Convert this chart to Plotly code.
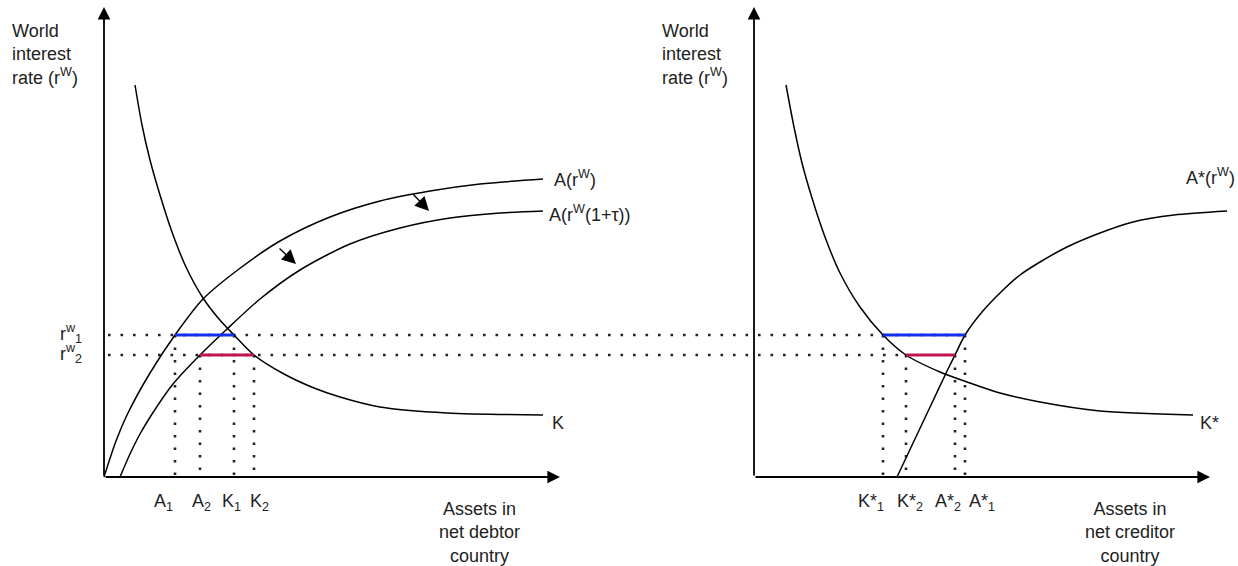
import plotly.graph_objects as go

# ---------------- data (panel coordinates: origin at each panel's axes corner) ----------------
# Left panel: net debtor country
A_x = [0, 12, 23, 46, 71, 99, 135, 176, 226, 276, 326, 376, 439]
A_y = [0, 36, 62, 104, 142, 178, 208, 236, 260, 276, 286, 293, 298]
A_tax_x = [16, 26, 36, 52, 69, 96, 122, 156, 196, 246, 296, 346, 396, 439]
A_tax_y = [0, 23, 43, 69, 93, 122, 147, 178, 207, 233, 249, 259, 264, 266]
K_x = [31, 38, 46, 56, 68, 82, 99, 115, 130, 150, 180, 210, 236, 276, 343, 439]
K_y = [392, 352, 317, 282, 245, 210, 179, 158, 142, 122, 103, 89, 80, 70, 64, 62]

# Right panel: net creditor country
Ks_x = [32, 40, 48, 58, 71, 86, 106, 129, 152, 186, 216, 246, 286, 346, 439]
Ks_y = [392, 350, 314, 279, 240, 204, 170, 142, 122, 105, 94, 84, 75, 66, 62]
As_x = [143, 160, 177, 194, 201, 211, 228, 246, 266, 286, 313, 346, 379, 420, 473]
As_y = [0, 36, 72, 108, 122, 142, 165, 184, 202, 215, 230, 244, 255, 262, 266]

# Equilibrium levels
r_levels = [142, 122]          # r^w_1, r^w_2
left_A = [71, 96]              # A1, A2
left_K = [130, 150]            # K1, K2
right_K = [129, 152]           # K*1, K*2
right_A = [211, 201]           # A*1, A*2

left_tick_labels = ["A<sub>1</sub>", "A<sub>2</sub>", "K<sub>1</sub>", "K<sub>2</sub>"]
right_tick_labels = ["K*<sub>1</sub>", "K*<sub>2</sub>", "A*<sub>2</sub>", "A*<sub>1</sub>"]
r_tick_labels = ["r<sup>w</sup><sub>1</sub>", "r<sup>w</sup><sub>2</sub>"]

# ---------------- layout constants ----------------
RX = 650            # horizontal offset of the right panel
AX_LEN = 456
AY_LEN = 470
FONT = dict(family="Liberation Sans, Arial, sans-serif", size=18, color="#222222")
BLUE = "#1030f0"
RED = "#c0144c"
DOT = dict(color="#222222", width=2.6, dash="2.6px,9.9px")

fig = go.Figure()


def line(xs, ys, **kw):
    fig.add_trace(go.Scatter(x=xs, y=ys, mode="lines", hoverinfo="skip",
                             showlegend=False, **kw))


def curve(xs, ys, dx=0):
    line([x + dx for x in xs], ys,
         line=dict(color="black", width=1.5, shape="spline", smoothing=0.8))


# dotted guide lines (horizontal across both panels)
line([4, RX + right_A[0]], [r_levels[0]] * 2, line=DOT)
line([4, RX + right_K[1]], [r_levels[1]] * 2, line=DOT)
# vertical dotted lines
for i in range(2):
    for xv in (left_A[i], left_K[i]):
        line([xv, xv], [r_levels[i], 0], line=DOT)
    for xv in (right_K[i], right_A[i]):
        line([RX + xv, RX + xv], [r_levels[i], 0], line=DOT)

# curves
curve(A_x, A_y)
curve(A_tax_x, A_tax_y)
curve(K_x, K_y)
curve(Ks_x, Ks_y, RX)
curve(As_x, As_y, RX)

# coloured equilibrium segments
line([left_A[0], left_K[0]], [r_levels[0]] * 2, line=dict(color=BLUE, width=3))
line([left_A[1], left_K[1]], [r_levels[1]] * 2, line=dict(color=RED, width=3))
line([RX + right_K[0], RX + right_A[0]], [r_levels[0]] * 2, line=dict(color=BLUE, width=3))
line([RX + right_K[1], RX + right_A[1]], [r_levels[1]] * 2, line=dict(color=RED, width=3))

ann = []


def arrow(x0, y0, x1, y1, width=1.8, size=1.3):
    ann.append(dict(x=x1, y=y1, ax=x0, ay=y0, xref="x", yref="y", axref="x", ayref="y",
                    text="", showarrow=True, arrowhead=2, arrowsize=size,
                    arrowwidth=width, arrowcolor="black", standoff=0, startstandoff=0))


def text(x, y, t, xanchor="center", yanchor="middle", align="center"):
    ann.append(dict(x=x, y=y, xref="x", yref="y", text=t, showarrow=False,
                    xanchor=xanchor, yanchor=yanchor, align=align, font=FONT))


# axes with arrow heads
for dx in (0, RX):
    arrow(dx, 0, dx, AY_LEN, width=1.8, size=1.4)
    arrow(dx, 0, dx + AX_LEN, 0, width=1.8, size=1.4)

# shift arrows
arrow(174, 230, 192, 213, width=1.4, size=2.0)
arrow(308, 284, 325, 266, width=1.4, size=2.0)

# axis titles
for dx in (0, RX):
    text(dx - 94, 458, "World<br>interest<br>rate (r<sup>W</sup>)", xanchor="left",
         yanchor="top", align="left")
text(375, -20, "Assets in<br>net debtor<br>country", yanchor="top")
text(RX + 376, -20, "Assets in<br>net creditor<br>country", yanchor="top")

# r labels
for lv, lab in zip(r_levels, r_tick_labels):
    text(-20, lv + 2, lab, xanchor="right")

# tick labels on x axes
left_lab_x = [59, 97, 127, 155]
right_lab_x = [117, 156, 194, 228]
for xv, lab in zip(left_lab_x, left_tick_labels):
    text(xv, -25, lab)
for xv, lab in zip(right_lab_x, right_tick_labels):
    text(RX + xv, -25, lab)

# curve labels
text(448, 299, "A(r<sup>W</sup>)", xanchor="left")
text(443, 264, "A(r<sup>W</sup>(1+τ))", xanchor="left")
text(446, 54, "K", xanchor="left")
text(RX + 430, 301, "A*(r<sup>W</sup>)", xanchor="left")
text(RX + 444, 54, "K*", xanchor="left")

fig.update_layout(
    width=1238, height=566,
    margin=dict(l=0, r=0, t=0, b=0),
    paper_bgcolor="white", plot_bgcolor="white",
    xaxis=dict(range=[-104, 1134], visible=False, fixedrange=True),
    yaxis=dict(range=[-89, 477], visible=False, fixedrange=True),
    annotations=ann,
    showlegend=False,
)

fig.write_html("out.html", config={"displayModeBar": False},
               post_script="document.body.style.margin='0';document.body.style.overflow='hidden';")
